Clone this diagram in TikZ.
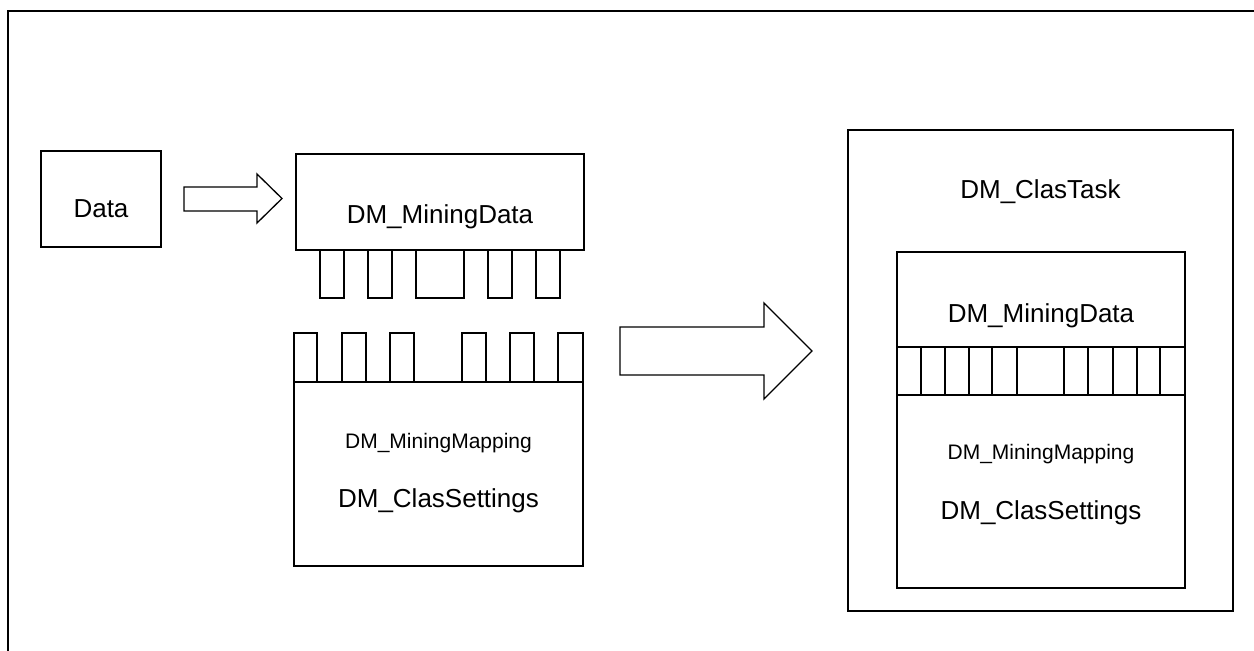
\documentclass[tikz,border=0pt]{standalone}
\usepackage{fontspec}
\setmainfont{Liberation Sans}
\begin{document}
\begin{tikzpicture}[x=1pt,y=-1pt, line width=1.3pt, line join=miter,
  box/.style={draw, line width=1.3pt, inner sep=0pt, outer sep=0pt},
  lbl/.style={font=\fontsize{26}{30}\selectfont, inner sep=0pt, anchor=base},
  slbl/.style={font=\fontsize{21}{25}\selectfont, inner sep=0pt, anchor=base},
  blockarrow/.style={draw, line width=1.3pt, fill=white}]
\useasboundingbox (0,0) rectangle (1254,651);
\fill[white] (0,0) rectangle (1254,651);
% outer frame (partially visible)
\draw[line width=1.8pt] (8,662) -- (8,11) -- (1264,11);

% Data
\node[box, minimum width=120pt, minimum height=96pt] (data) at (101,199) {};
\node[lbl] (datat) at (101,217) {Data};

% small block arrow
\draw[blockarrow] (184,187) -- (257,187) -- (257,174) -- (282,198.5) -- (257,223) -- (257,211) -- (184,211) -- cycle;

% left DM_MiningData
\node[box, minimum width=288pt, minimum height=96pt] (md) at (440,202) {};
\node[lbl] (mdt) at (440,223) {DM\_MiningData};
\foreach \a/\b in {320/344,368/392,416/464,488/512,536/560}
  \draw (\a,250) rectangle (\b,298);

% left DM_MiningMapping / DM_ClasSettings
\node[box, minimum width=289pt, minimum height=184pt] (mm) at (438.5,474) {};
\foreach \a/\b in {294/317,342/366,390/414,462/486,510/534,558/583}
  \draw (\a,382) -- (\a,333) -- (\b,333) -- (\b,382);
\node[slbl] (mmt) at (438.5,448) {DM\_MiningMapping};
\node[lbl] (cst) at (438.5,507) {DM\_ClasSettings};

% big block arrow
\draw[blockarrow] (620,327) -- (764,327) -- (764,303) -- (812,351) -- (764,399) -- (764,375) -- (620,375) -- cycle;

% DM_ClasTask
\node[box, minimum width=385pt, minimum height=481pt] (task) at (1040.5,370.5) {};
\node[lbl] (taskt) at (1040.5,198) {DM\_ClasTask};

% inner combined box
\node[box, minimum width=288pt, minimum height=336pt] (inner) at (1041,420) {};
\draw (897,347) -- (1185,347);
\draw (897,395) -- (1185,395);
\foreach \x in {921,945,969,992,1017,1064,1088,1113,1137,1160}
  \draw (\x,347) -- (\x,395);
\node[lbl] (imdt) at (1041,322) {DM\_MiningData};
\node[slbl] (immt) at (1041,459) {DM\_MiningMapping};
\node[lbl] (icst) at (1041,519) {DM\_ClasSettings};
\end{tikzpicture}
\end{document}
